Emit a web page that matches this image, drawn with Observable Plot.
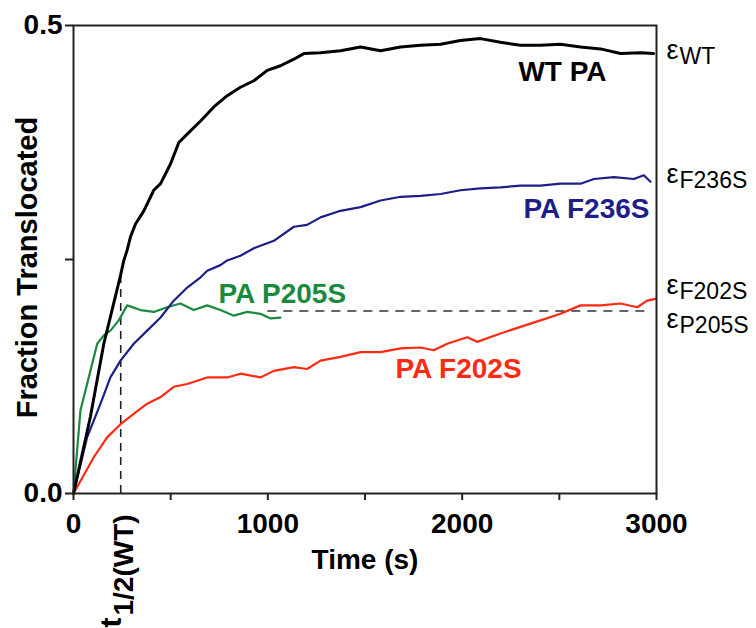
<!DOCTYPE html>
<html>
<head>
<meta charset="utf-8">
<script src="https://cdn.jsdelivr.net/npm/d3@7"></script>
<script src="https://cdn.jsdelivr.net/npm/@observablehq/plot@0.6"></script>
<style>
  html, body { margin: 0; padding: 0; background: #fff; }
  #chart { width: 756px; height: 628px; }
</style>
</head>
<body>
<div id="chart"></div>
<script>
// ---- data ----
const wtTime  = [0, 87, 156, 242, 259, 276, 293, 319, 362, 413, 448, 499, 542, 585, 654, 722, 791, 859, 928, 997, 1065, 1134, 1185, 1271, 1374, 1477, 1580, 1683, 1786, 1889, 1991, 2094, 2197, 2300, 2403, 2506, 2609, 2712, 2815, 2918, 2985];
const wtValue = [0, 0.082, 0.160, 0.233, 0.249, 0.260, 0.274, 0.288, 0.302, 0.324, 0.331, 0.352, 0.375, 0.384, 0.398, 0.413, 0.425, 0.434, 0.441, 0.452, 0.457, 0.464, 0.470, 0.471, 0.473, 0.477, 0.473, 0.477, 0.479, 0.480, 0.484, 0.486, 0.482, 0.479, 0.479, 0.480, 0.477, 0.475, 0.470, 0.471, 0.470];

const f236Time  = [0, 70, 139, 190, 242, 310, 379, 448, 516, 585, 654, 688, 756, 791, 859, 928, 1031, 1134, 1202, 1271, 1374, 1477, 1580, 1683, 1786, 1889, 1991, 2094, 2197, 2300, 2403, 2506, 2609, 2678, 2781, 2883, 2935, 2969];
const f236Value = [0, 0.060, 0.096, 0.124, 0.142, 0.160, 0.174, 0.188, 0.206, 0.220, 0.231, 0.238, 0.244, 0.249, 0.254, 0.262, 0.270, 0.285, 0.287, 0.295, 0.302, 0.306, 0.313, 0.317, 0.318, 0.320, 0.324, 0.326, 0.327, 0.329, 0.329, 0.331, 0.331, 0.336, 0.338, 0.336, 0.340, 0.333];

const p205Time  = [0, 36, 87, 122, 156, 190, 233, 276, 345, 413, 482, 550, 619, 688, 756, 825, 894, 962, 1014, 1065];
const p205Value = [0, 0.089, 0.131, 0.160, 0.169, 0.174, 0.185, 0.201, 0.196, 0.194, 0.199, 0.203, 0.196, 0.201, 0.196, 0.190, 0.194, 0.192, 0.187, 0.188];

const f202Time  = [0, 105, 173, 242, 310, 379, 448, 516, 585, 688, 791, 859, 962, 1031, 1134, 1202, 1271, 1374, 1477, 1580, 1683, 1786, 1854, 1923, 2026, 2077, 2197, 2300, 2403, 2506, 2609, 2712, 2815, 2901, 2952, 2995];
const f202Value = [0, 0.039, 0.060, 0.074, 0.085, 0.096, 0.103, 0.114, 0.117, 0.124, 0.124, 0.128, 0.124, 0.131, 0.135, 0.133, 0.142, 0.146, 0.151, 0.151, 0.155, 0.156, 0.153, 0.160, 0.167, 0.162, 0.171, 0.178, 0.185, 0.192, 0.201, 0.201, 0.203, 0.199, 0.206, 0.208];

const seriesNames  = ["WT PA", "PA F236S", "PA P205S", "PA F202S"];
const seriesColors = ["#000000", "#1c1f8a", "#1a8a3e", "#ff2a12"];

// series label anchors (time, value)
const labelTime  = [2516, 2964, 746, 1657];
const labelValue = [0.441, 0.294, 0.203, 0.123];

// epsilon (plateau) labels on the right
const epsNames  = ["WT", "F236S", "F202S", "P205S"];
const epsLevels = [0.459, 0.326, 0.208, 0.172];

// reference lines
const tHalfWT = 243;
const halfWT = 0.233;
const epsP205 = 0.195;
const epsLineStart = 1000, epsLineEnd = 2970;

const xTicks = [0, 500, 1000, 1500, 2000, 2500, 3000];
const xTickLabels = ["0", "", "1000", "", "2000", "", "3000"];
const yTicks = [0, 0.25, 0.5];
const yTickLabels = ["0.0", "", "0.5"];

// ---- build table ----
function toRows(name, ts, vs) { return ts.map((t, i) => ({series: name, t, v: vs[i]})); }
const rows = [
  ...toRows("WT PA", wtTime, wtValue),
  ...toRows("PA F236S", f236Time, f236Value),
  ...toRows("PA P205S", p205Time, p205Value),
  ...toRows("PA F202S", f202Time, f202Value)
];
const labels = seriesNames.map((n, i) => ({name: n, t: labelTime[i], v: labelValue[i], color: seriesColors[i]}));
const eps = epsNames.map((n, i) => ({name: n, v: epsLevels[i]}));

const font = "'Liberation Sans', Arial, Helvetica, sans-serif";
const anchors = ["middle", "end", "start", "start"];
const strokeW = {"WT PA": 3, "PA F236S": 2.2, "PA P205S": 2.2, "PA F202S": 2.2};

const marks = [
  Plot.ruleX([tHalfWT], {y1: 0, y2: halfWT, stroke: "#222", strokeWidth: 1.6, strokeDasharray: "8,6"}),
  Plot.ruleY([epsP205], {x1: epsLineStart, x2: epsLineEnd, stroke: "#333", strokeWidth: 1.6, strokeDasharray: "9,7"}),
];
// lines, drawn red, green, navy, black
for (const name of ["PA F202S", "PA P205S", "PA F236S", "WT PA"]) {
  const c = seriesColors[seriesNames.indexOf(name)];
  marks.push(Plot.line(rows.filter(d => d.series === name), {x: "t", y: "v", stroke: c, strokeWidth: strokeW[name], strokeLinejoin: "round"}));
}
labels.forEach((d, i) => {
  marks.push(Plot.text([d], {x: "t", y: "v", text: "name", fill: d.color, textAnchor: anchors[i], lineAnchor: "bottom",
    fontSize: 28, fontWeight: "bold", fontFamily: font}));
});
marks.push(
  Plot.text(eps, {x: () => 3000, y: "v", text: () => "ε", textAnchor: "start", lineAnchor: "bottom", dx: 10, dy: -5,
    fontSize: 27, fontFamily: font, fill: "#000"}),
  Plot.text(eps, {x: () => 3000, y: "v", text: "name", textAnchor: "start", lineAnchor: "bottom", dx: 23,
    fontSize: 23, fontFamily: font, fill: "#000"}),
  // t1/2(WT)
  Plot.text([tHalfWT], {x: d => d, frameAnchor: "bottom", text: () => "t", rotate: -90, textAnchor: "start", lineAnchor: "bottom",
    dy: 134, fontSize: 30, fontWeight: "bold", fontFamily: font, fill: "#000"}),
  Plot.text([tHalfWT], {x: d => d, frameAnchor: "bottom", text: () => "1/2(WT)", rotate: -90, textAnchor: "start", lineAnchor: "bottom",
    dx: 12, dy: 122, fontSize: 28, fontWeight: "bold", fontFamily: font, fill: "#000"}),
  // axes
  Plot.axisX({ticks: xTicks, tickFormat: d => xTickLabels[xTicks.indexOf(d)], tickSize: 7, tickPadding: 13,
    fontSize: 28, fontWeight: "bold", fontFamily: font, stroke: "#222", strokeWidth: 2, label: null}),
  Plot.axisY({ticks: yTicks, tickFormat: d => yTickLabels[yTicks.indexOf(d)], tickSize: 8, tickPadding: 3,
    fontSize: 28, fontWeight: "bold", fontFamily: font, stroke: "#222", strokeWidth: 2, label: null}),
  Plot.text(["Time (s)"], {frameAnchor: "bottom", dy: 75, textAnchor: "middle", lineAnchor: "bottom", fontSize: 28, fontWeight: "bold", fontFamily: font, fill: "#000"}),
  Plot.text(["Fraction Translocated"], {frameAnchor: "left", rotate: -90, dx: -46, dy: 8, textAnchor: "middle", lineAnchor: "middle", fontSize: 29, fontWeight: "bold", fontFamily: font, fill: "#000"}),
  Plot.frame({stroke: "#222", strokeWidth: 2})
);

const chart = Plot.plot({
  width: 756,
  height: 628,
  marginLeft: 73,
  marginRight: 100,
  marginTop: 25,
  marginBottom: 135,
  x: {domain: [0, 3000]},
  y: {domain: [0, 0.5]},
  style: {fontFamily: font, background: "#fff", color: "#000", overflow: "visible"},
  marks
});
document.getElementById("chart").appendChild(chart);
</script>
</body>
</html>
